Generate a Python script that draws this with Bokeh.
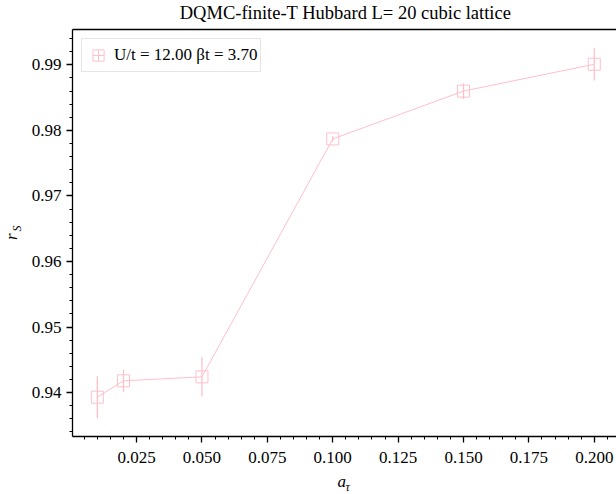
import math
from bokeh.plotting import figure
from bokeh.models import (ColumnDataSource, Range1d, SingleIntervalTicker, FixedTicker,
                          PrintfTickFormatter, LinearAxis, Label, Legend, LegendItem)
from bokeh.embed import file_html
from bokeh.resources import INLINE

# ---- data ----
a_tau = [0.01, 0.02, 0.05, 0.10, 0.15, 0.20]
r_s = [0.9393, 0.9418, 0.9424, 0.9787, 0.9860, 0.9901]
r_s_err = [0.0032, 0.0017, 0.0030, 0.0004, 0.0012, 0.0025]
series_label = "U/t = 12.00 \u03b2t = 3.70"
title_text = "DQMC-finite-T Hubbard L= 20 cubic lattice"
x_label = ("a", "\u03c4")
y_label = ("r", "S")

PINK = "#ffc0cb"
FONT = "Liberation Serif"
FS = "17px"

src = ColumnDataSource(dict(
    x=a_tau, y=r_s,
    lo=[v - e for v, e in zip(r_s, r_s_err)],
    hi=[v + e for v, e in zip(r_s, r_s_err)],
))

p = figure(width=616, height=494, output_backend="svg", toolbar_location=None,
           x_range=Range1d(0.0005, 0.2085), y_range=Range1d(0.9333, 0.9954),
           min_border_left=72, min_border_right=0, min_border_top=29, min_border_bottom=58,
           x_axis_type=None, y_axis_type=None)
p.outline_line_color = None
p.background_fill_color = "white"
p.border_fill_color = "white"

def style_axis(ax):
    ax.axis_line_width = 1.3
    ax.axis_line_color = "black"
    ax.major_tick_line_width = 1.3
    ax.minor_tick_line_width = 1.0
    ax.major_tick_line_color = "black"
    ax.minor_tick_line_color = "black"
    ax.major_tick_in = 0
    ax.major_tick_out = 6
    ax.minor_tick_in = 0
    ax.minor_tick_out = 3
    ax.major_label_text_font = FONT
    ax.major_label_text_font_size = FS
    ax.major_label_text_color = "black"

xa = LinearAxis(ticker=SingleIntervalTicker(interval=0.025, num_minor_ticks=5),
                formatter=PrintfTickFormatter(format="%.3f"))
style_axis(xa)
xa.major_label_standoff = 9
p.add_layout(xa, "below")

ya = LinearAxis(ticker=SingleIntervalTicker(interval=0.01, num_minor_ticks=5),
                formatter=PrintfTickFormatter(format="%.2f"))
style_axis(ya)
ya.major_label_standoff = 5
p.add_layout(ya, "left")

top = LinearAxis(ticker=FixedTicker(ticks=[]), major_tick_out=0, minor_tick_out=0,
                 major_label_text_font_size="0px", major_label_standoff=0,
                 axis_line_width=1.3)
p.add_layout(top, "above")

# error bars, line, markers
p.segment(x0="x", y0="lo", x1="x", y1="hi", source=src, line_color=PINK, line_width=1.3)
line_r = p.line("x", "y", source=src, line_color=PINK, line_width=1)
p.scatter("x", "y", source=src, marker="square", size=12, line_color=PINK,
          line_width=1, fill_color=None)
# zero-size marker renderer: only used to draw the legend symbol
legend_r = p.scatter("x", "y", source=src, marker="square_cross", size=0, line_color=PINK,
                     line_width=1, fill_color=None)

legend = Legend(items=[LegendItem(label=series_label, renderers=[legend_r])],
                location="top_left", margin=9, padding=2, glyph_width=28, glyph_height=28,
                label_standoff=2, label_height=28, spacing=0,
                border_line_color="#cccccc", border_line_width=1,
                background_fill_alpha=0.8,
                label_text_font=FONT, label_text_font_size=FS, label_text_color="black")
p.add_layout(legend)

def lab(text, x, y, size=FS, italic=False, angle=0.0, align="left"):
    return Label(x=x, y=y, x_units="screen", y_units="screen", text=text, angle=angle,
                 text_align=align, text_baseline="alphabetic",
                 text_font_style="italic" if italic else "normal",
                 text_font=FONT, text_font_size=size, text_color="black")

# x axis label (below, after the axis)
p.add_layout(lab(x_label[0], 265, 3, italic=True), "below")
# y axis label r (left, after axis) and tau subscript (left, outermost)
p.add_layout(lab(y_label[0], 2, 196.5, italic=True, angle=math.pi / 2), "left")
p.add_layout(lab(x_label[1], 340, -50.5, size="12px", italic=True), "left")
# S subscript and title (above)
p.add_layout(lab(y_label[1], -55.5, -202, size="12px", italic=True, angle=math.pi / 2), "above")
p.add_layout(lab(title_text, 273, 10.5, size="18.5px", align="center"), "above")

open("out.html", "w").write(file_html(p, INLINE))
